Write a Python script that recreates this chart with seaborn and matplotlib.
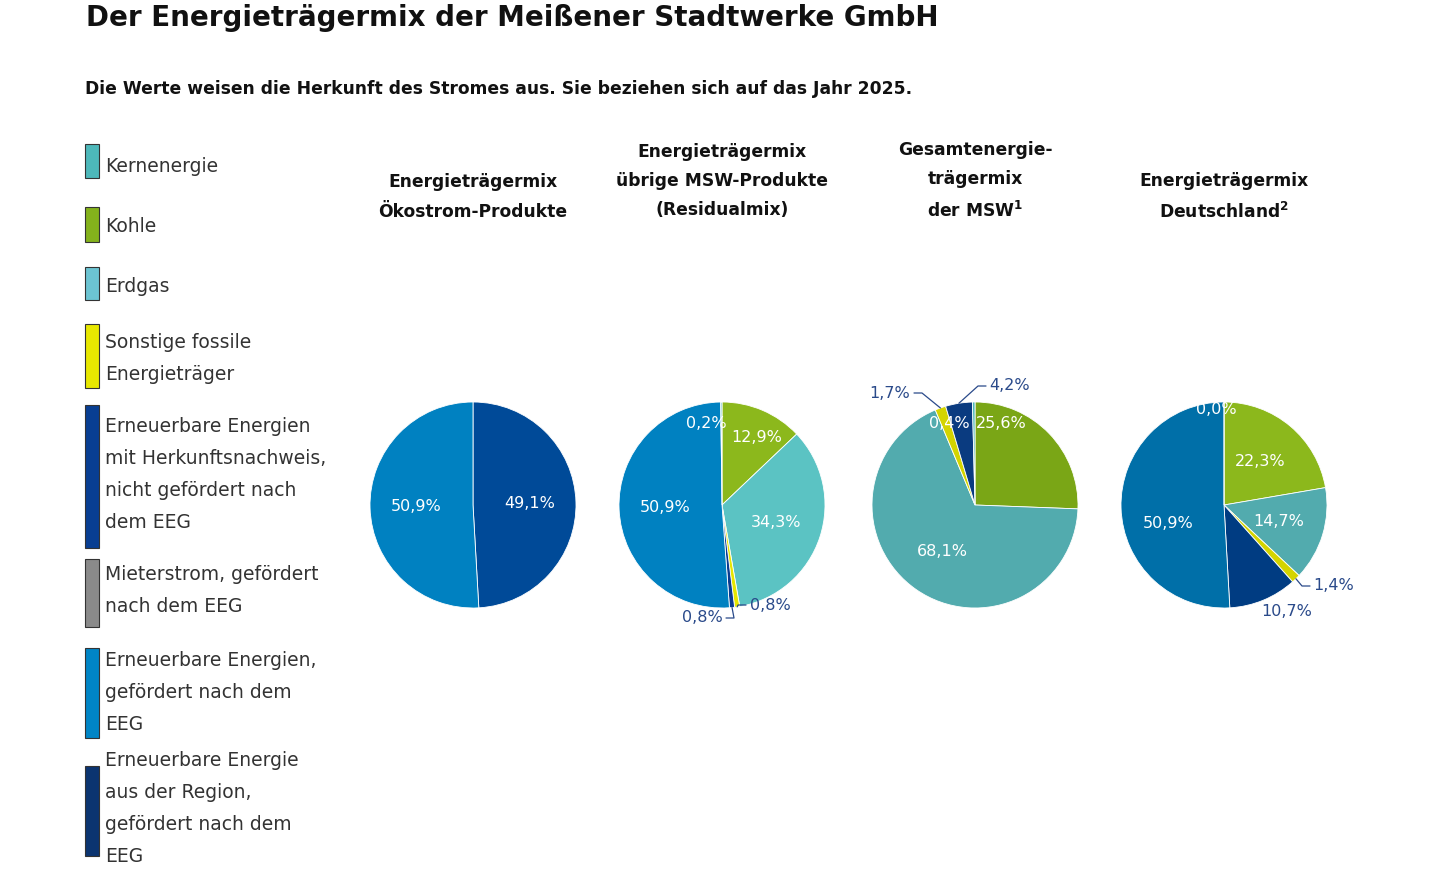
import numpy as np
import matplotlib.pyplot as plt
import seaborn as sns

sns.set_theme(style="white")
plt.rcParams['font.family'] = ['DejaVu Sans']

# ---------------- data ----------------
legend_labels = [
    "Kernenergie", "Kohle", "Erdgas", "Sonstige fossile\nEnergieträger",
    "Erneuerbare Energien\nmit Herkunftsnachweis,\nnicht gefördert nach\ndem EEG",
    "Mieterstrom, gefördert\nnach dem EEG",
    "Erneuerbare Energien,\ngefördert nach dem\nEEG",
    "Erneuerbare Energie\naus der Region,\ngefördert nach dem\nEEG",
]
legend_colors = ["#4db8ba", "#84b21c", "#6cc4d2", "#e8e800",
                 "#083e92", "#8a8a8a", "#0085c6", "#0b3470"]

pie_titles = ["Energieträgermix\nÖkostrom-Produkte",
              "Energieträgermix\nübrige MSW-Produkte\n(Residualmix)",
              "Gesamtenergie-\nträgermix\nder MSW$^{\\mathbf{1}}$",
              "Energieträgermix\nDeutschland$^{\\mathbf{2}}$"]

# clockwise from 12 o'clock
pie_values = [
    [49.1, 50.9],
    [12.9, 34.3, 0.8, 0.8, 50.9, 0.2],
    [25.6, 68.1, 1.7, 4.2, 0.4],
    [22.3, 14.7, 1.4, 10.7, 50.9, 0.0],
]
pie_colors = [
    ["#004a98", "#0081c1"],
    ["#8cb81c", "#5bc3c3", "#e6e600", "#0a3b8f", "#0081c1", "#4db8ba"],
    ["#7aa616", "#52abae", "#d4d400", "#0a3b80", "#4db8ba"],
    ["#8cb81c", "#52abae", "#d4d400", "#003c82", "#006fa8", "#4db8ba"],
]

# ---------------- layout ----------------
# label positions in pixels (None -> inside at 0.55 r), leader flag
label_pos = [
    [None, None],
    [(757, 437, False), None, (770, 605, True), (702, 618, True), None, (706, 423, False)],
    [(1001, 424, False), None, (890, 393, True), (1010, 386, True), (949, 424, False)],
    [None, None, (1334, 586, True), (1287, 612, False), (1168, 523, False), (1216, 410, False)],
]

W, H = 1440, 882
fig = plt.figure(figsize=(W / 100, H / 100), dpi=100)
ax = fig.add_axes([0, 0, 1, 1])
ax.set_xlim(0, W)
ax.set_ylim(0, H)
ax.set_aspect("equal")
ax.axis("off")

def Y(y):
    return H - y

ax.text(86, Y(18), "Der Energieträgermix der Meißener Stadtwerke GmbH",
        fontsize=20, fontweight="bold", va="center", color="#111111")
ax.text(85, Y(89), "Die Werte weisen die Herkunft des Stromes aus. Sie beziehen sich auf das Jahr 2025.",
        fontsize=12.3, fontweight="bold", va="center", color="#111111")

# legend
boxes = [(144, 178), (207, 242), (267, 300), (324, 388), (405, 548),
         (559, 627), (648, 738), (766, 856)]
text_top = [166, 227, 287, 343, 427, 574, 661, 761]
for (y0, y1), ty, lab, col in zip(boxes, text_top, legend_labels, legend_colors):
    ax.add_patch(plt.Rectangle((85, Y(y1)), 14, y1 - y0, facecolor=col,
                               edgecolor="#333333", lw=0.8))
    for j, line in enumerate(lab.split("\n")):
        ax.text(105, Y(ty + 32 * j), line, fontsize=13.5, va="center",
                ha="left", color="#333333")

# pies
centers = [473, 722, 975, 1224]
header_y = [197, 181, 181, 197]
cy, r = 505, 103
lab_col = "#2a4a8a"
for cx, title, hy, vals, cols, poss in zip(centers, pie_titles, header_y,
                                           pie_values, pie_colors, label_pos):
    ax.text(cx, Y(hy), title, fontsize=12.3, fontweight="bold", ha="center",
            va="center", color="#111111", linespacing=1.8)
    wedges, _ = ax.pie(vals, colors=cols, startangle=90, counterclock=False,
                       center=(cx, Y(cy)), radius=r, normalize=True,
                       wedgeprops=dict(edgecolor="white", linewidth=0.6))
    for w, v, p in zip(wedges, vals, poss):
        ang = np.deg2rad((w.theta1 + w.theta2) / 2)
        txt = f"{v:.1f}%".replace(".", ",")
        if p is None:
            rr = 0.55 * r
            ax.text(cx + rr * np.cos(ang), Y(cy) + rr * np.sin(ang), txt,
                    ha="center", va="center", fontsize=11.5, color="white")
            continue
        tx, ty, leader = p
        inside = (tx - cx) ** 2 + (ty - cy) ** 2 < r ** 2
        ax.text(tx, Y(ty), txt, ha="center", va="center", fontsize=11.5,
                color="white" if inside else lab_col)
        if leader:
            x0 = cx + r * np.cos(ang)
            y0 = Y(cy) + r * np.sin(ang)
            side = 1 if tx > x0 else -1
            xe = tx - side * 24
            ax.plot([x0, xe - side * 8, xe], [y0, Y(ty), Y(ty)],
                    color=lab_col, lw=0.9)

ax.set_xlim(0, W)
ax.set_ylim(0, H)
fig.savefig("out.png", dpi=100, facecolor="white")
